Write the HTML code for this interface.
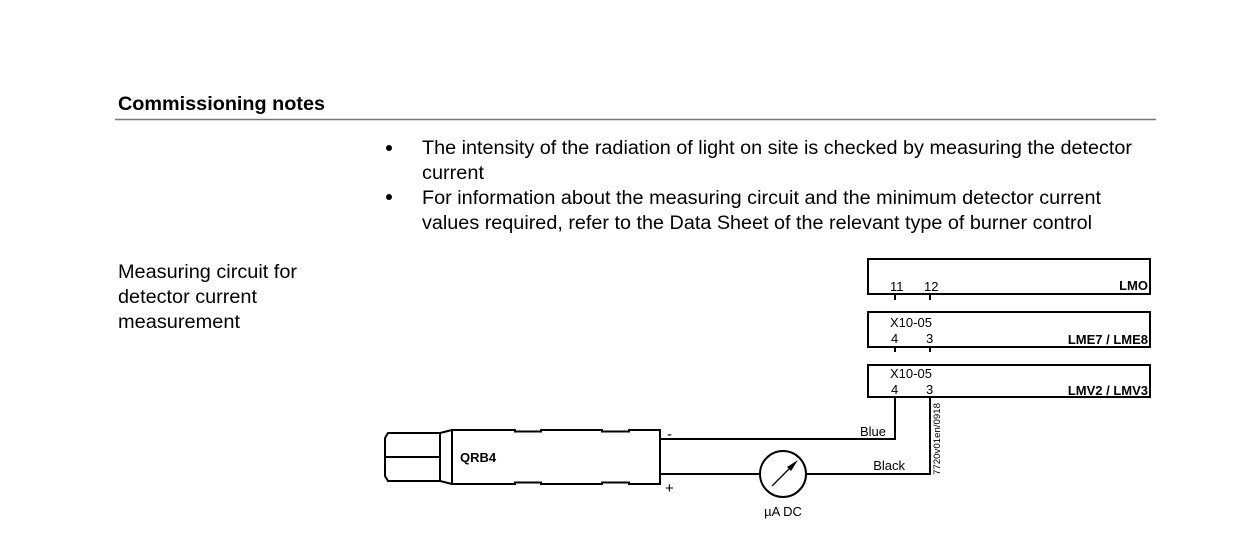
<!DOCTYPE html>
<html><head><meta charset="utf-8"><style>
html,body{margin:0;padding:0;background:#fff;}
svg{display:block;font-family:"Liberation Sans",Arial,sans-serif;}
</style></head><body>
<svg width="1237" height="540" viewBox="0 0 1237 540" xmlns="http://www.w3.org/2000/svg">
<rect width="1237" height="540" fill="#fff"/>
<text x="118" y="110" font-size="19" font-weight="bold" textLength="207" lengthAdjust="spacingAndGlyphs">Commissioning notes</text>
<line x1="115" y1="119.5" x2="1156" y2="119.5" stroke="#777" stroke-width="1.5"/>
<g font-size="19" fill="#000">
<circle cx="389" cy="148" r="3"/>
<text x="422" y="154" textLength="710" lengthAdjust="spacingAndGlyphs">The intensity of the radiation of light on site is checked by measuring the detector</text>
<text x="422" y="179" textLength="62" lengthAdjust="spacingAndGlyphs">current</text>
<circle cx="389" cy="197" r="3"/>
<text x="422" y="204" textLength="679" lengthAdjust="spacingAndGlyphs">For information about the measuring circuit and the minimum detector current</text>
<text x="422" y="229" textLength="670" lengthAdjust="spacingAndGlyphs">values required, refer to the Data Sheet of the relevant type of burner control</text>
<text x="118" y="278" textLength="179" lengthAdjust="spacingAndGlyphs">Measuring circuit for</text>
<text x="118" y="303" textLength="139" lengthAdjust="spacingAndGlyphs">detector current</text>
<text x="118" y="328" textLength="122" lengthAdjust="spacingAndGlyphs">measurement</text>
</g>
<g stroke="#000" stroke-width="2" fill="none">
<rect x="868" y="259" width="282" height="35"/>
<rect x="868" y="312" width="282" height="35"/>
<rect x="868" y="365" width="282" height="32"/>
<line x1="895" y1="294" x2="895" y2="300"/>
<line x1="930" y1="294" x2="930" y2="300"/>
<line x1="895" y1="347" x2="895" y2="352"/>
<line x1="930" y1="347" x2="930" y2="352"/>
<polyline points="660,439 895,439 895,397"/>
<polyline points="660,474 760,474"/>
<polyline points="806,474 930,474 930,397"/>
<circle cx="783" cy="474" r="23"/>
<path d="M452,430 H515 V431.5 H541 V430 H602 V431.5 H629 V430 H660 V484 H629 V482.5 H602 V484 H541 V482.5 H515 V484 H452 Z"/>
<path d="M452,430 L440,433 V481 L452,484"/>
<path d="M440,433 H388 L385,438 V476 L388,481 H440"/>
<line x1="385" y1="457" x2="440" y2="457"/>
</g>
<line x1="772" y1="486" x2="792" y2="466" stroke="#000" stroke-width="1.3"/>
<polygon points="798,460 787,467 791,471" fill="#000"/>
<g font-size="13" fill="#000">
<text x="890" y="291">11</text><text x="924" y="291">12</text>
<text x="1148" y="290" text-anchor="end" font-weight="bold">LMO</text>
<text x="890" y="327">X10-05</text>
<text x="891" y="343">4</text><text x="926" y="343">3</text>
<text x="1148" y="344" text-anchor="end" font-weight="bold">LME7 / LME8</text>
<text x="890" y="378">X10-05</text>
<text x="891" y="394">4</text><text x="926" y="394">3</text>
<text x="1148" y="395" text-anchor="end" font-weight="bold">LMV2 / LMV3</text>
<text x="886" y="436" text-anchor="end">Blue</text>
<text x="905" y="470" text-anchor="end">Black</text>
<text x="460" y="462" font-weight="bold">QRB4</text>
<text x="783" y="516" text-anchor="middle">µA DC</text>
</g>
<text x="667" y="439" font-size="15">-</text>
<text x="665" y="493" font-size="15">+</text>
<text transform="translate(940,475) rotate(-90)" font-size="9" fill="#000" textLength="72" lengthAdjust="spacingAndGlyphs">7720v01en/0918</text>
</svg>
</body></html>
